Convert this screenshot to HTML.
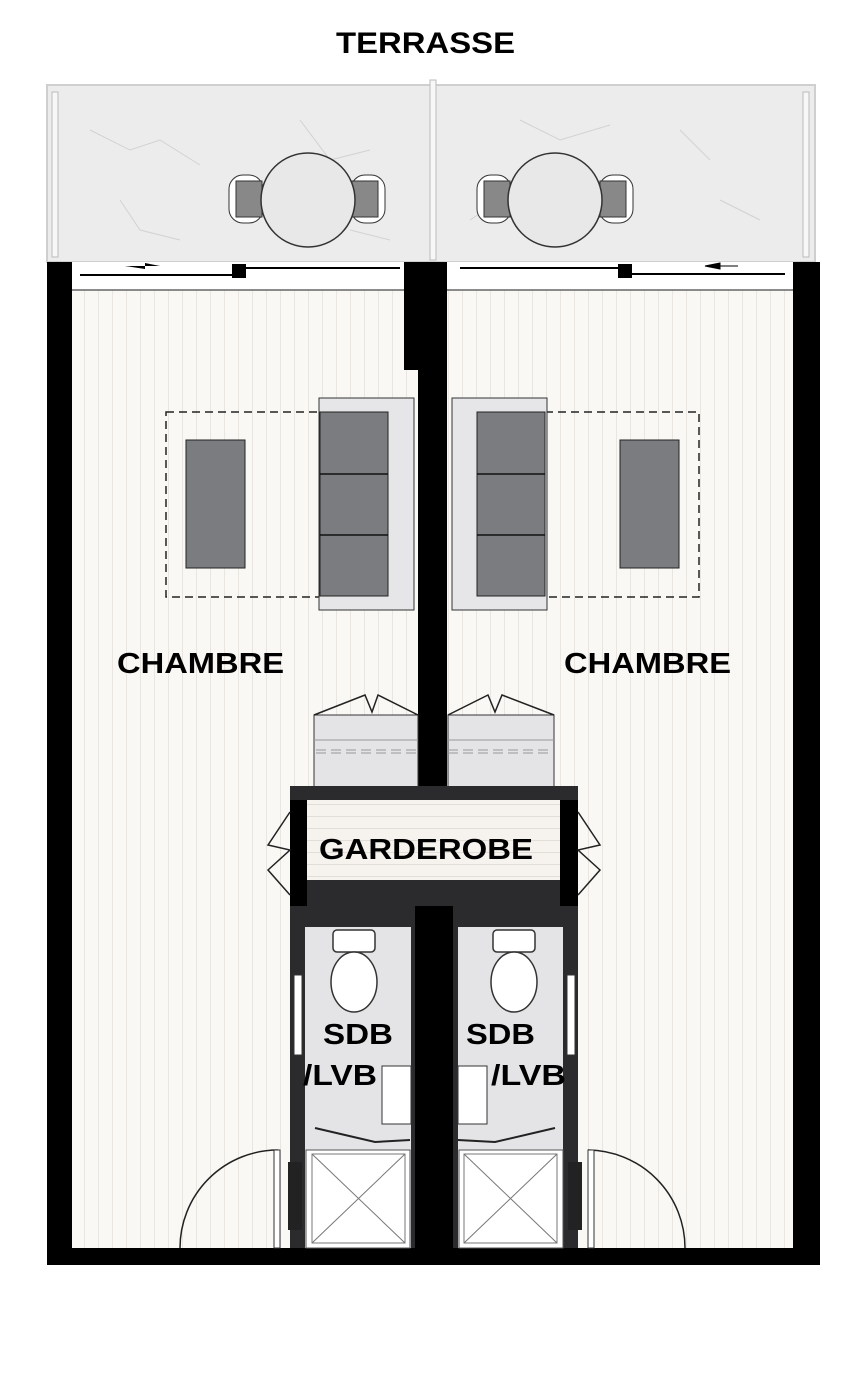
<!DOCTYPE html>
<html><head><meta charset="utf-8"><style>
html,body{margin:0;padding:0;background:#fff;}
svg{display:block;}
text{font-family:"Liberation Sans",Arial,sans-serif;font-weight:bold;fill:#000;}
</style></head><body>
<svg width="868" height="1381" viewBox="0 0 868 1381" xmlns="http://www.w3.org/2000/svg">
<defs>
<pattern id="wood" width="14" height="20" patternUnits="userSpaceOnUse">
<rect width="14" height="20" fill="#faf8f5"/>
<line x1="0.5" y1="0" x2="0.5" y2="20" stroke="#e9e5e0" stroke-width="1"/>
</pattern>
<pattern id="woodh" width="20" height="12" patternUnits="userSpaceOnUse">
<rect width="20" height="12" fill="#f6f3ef"/>
<line x1="0" y1="0.5" x2="20" y2="0.5" stroke="#e2ddd7" stroke-width="1"/>
</pattern>
</defs>
<text x="336" y="53" font-size="30" textLength="179" lengthAdjust="spacingAndGlyphs">TERRASSE</text>
<!-- terrace -->
<rect x="47" y="85" width="768" height="177" fill="#ececec"/>
<rect x="47" y="85" width="768" height="177" fill="none" stroke="#cfcfcf" stroke-width="2"/>
<rect x="52" y="92" width="6" height="165" fill="#f7f7f7" stroke="#bbb"/>
<rect x="430" y="80" width="6" height="180" fill="#f7f7f7" stroke="#bbb"/>
<rect x="803" y="92" width="6" height="165" fill="#f7f7f7" stroke="#bbb"/>
<path d="M90 130 l40 20 l30 -10 l40 25 M300 120 l30 40 l40 -10 M120 200 l20 30 l40 10 M520 120 l40 20 l50 -15 M680 130 l30 30 M720 200 l40 20 M470 220 l30 -20 M350 230 l40 10" stroke="#d2d2d2" fill="none"/>
<!-- tables -->
<g>
<rect x="229" y="175" width="34" height="48" rx="14" fill="#fff" stroke="#333"/>
<rect x="236" y="181" width="26" height="36" fill="#888" stroke="#333"/>
<rect x="351" y="175" width="34" height="48" rx="14" fill="#fff" stroke="#333"/>
<rect x="352" y="181" width="26" height="36" fill="#888" stroke="#333"/>
<circle cx="308" cy="200" r="47" fill="#e8e8e8" stroke="#333" stroke-width="1.5"/>
<rect x="477" y="175" width="34" height="48" rx="14" fill="#fff" stroke="#333"/>
<rect x="484" y="181" width="26" height="36" fill="#888" stroke="#333"/>
<rect x="599" y="175" width="34" height="48" rx="14" fill="#fff" stroke="#333"/>
<rect x="600" y="181" width="26" height="36" fill="#888" stroke="#333"/>
<circle cx="555" cy="200" r="47" fill="#e8e8e8" stroke="#333" stroke-width="1.5"/>
</g>
<!-- floors -->
<rect x="72" y="262" width="723" height="990" fill="url(#wood)"/>
<!-- window strip -->
<rect x="72" y="262" width="723" height="28" fill="#fff"/>
<line x1="72" y1="290" x2="795" y2="290" stroke="#666" stroke-width="1.5"/>
<line x1="80" y1="275" x2="235" y2="275" stroke="#000" stroke-width="2"/>
<line x1="245" y1="268" x2="400" y2="268" stroke="#000" stroke-width="2"/>
<line x1="460" y1="268" x2="620" y2="268" stroke="#000" stroke-width="2"/>
<line x1="630" y1="274" x2="785" y2="274" stroke="#000" stroke-width="2"/>
<rect x="232" y="264" width="14" height="14" fill="#000"/>
<rect x="618" y="264" width="14" height="14" fill="#000"/>
<path d="M125 266 h20 l15 0 l-15 -3 v6z" fill="#000"/>
<path d="M705 266 l15 -3 v6z M720 266 h18" fill="#000" stroke="#000"/>
<!-- walls -->
<rect x="47" y="262" width="25" height="1003" fill="#000"/>
<rect x="793" y="262" width="27" height="1003" fill="#000"/>
<rect x="47" y="1248" width="773" height="17" fill="#000"/>
<rect x="404" y="262" width="42" height="108" fill="#000"/>
<rect x="418" y="262" width="29" height="535" fill="#000"/>
<!-- rugs -->
<rect x="166" y="412" width="155" height="185" fill="none" stroke="#222" stroke-width="1.5" stroke-dasharray="8,5"/>
<rect x="545" y="412" width="154" height="185" fill="none" stroke="#222" stroke-width="1.5" stroke-dasharray="8,5"/>
<!-- coffee tables -->
<rect x="186" y="440" width="59" height="128" fill="#7b7c80" stroke="#222"/>
<rect x="620" y="440" width="59" height="128" fill="#7b7c80" stroke="#222"/>
<!-- sofas -->
<rect x="319" y="398" width="95" height="212" fill="#e6e6e8" stroke="#333"/>
<rect x="320" y="412" width="68" height="184" fill="#7b7c80" stroke="#222"/>
<line x1="320" y1="474" x2="388" y2="474" stroke="#111" stroke-width="1.5"/>
<line x1="320" y1="535" x2="388" y2="535" stroke="#111" stroke-width="1.5"/>
<rect x="452" y="398" width="95" height="212" fill="#e6e6e8" stroke="#333"/>
<rect x="477" y="412" width="68" height="184" fill="#7b7c80" stroke="#222"/>
<line x1="477" y1="474" x2="545" y2="474" stroke="#111" stroke-width="1.5"/>
<line x1="477" y1="535" x2="545" y2="535" stroke="#111" stroke-width="1.5"/>
<text x="117" y="673" font-size="29" textLength="167" lengthAdjust="spacingAndGlyphs">CHAMBRE</text>
<text x="564" y="673" font-size="29" textLength="167" lengthAdjust="spacingAndGlyphs">CHAMBRE</text>
<!-- beds -->
<rect x="314" y="715" width="104" height="73" fill="#e4e4e6" stroke="#333"/>
<line x1="314" y1="740" x2="418" y2="740" stroke="#999"/>
<line x1="316" y1="750" x2="418" y2="750" stroke="#999" stroke-dasharray="10,5"/>
<line x1="316" y1="753" x2="418" y2="753" stroke="#999" stroke-dasharray="10,5"/>
<path d="M314 715 L365 695 L372 712 L378 695 L418 715" fill="none" stroke="#222" stroke-width="1.5"/>
<rect x="448" y="715" width="106" height="73" fill="#e4e4e6" stroke="#333"/>
<line x1="448" y1="740" x2="554" y2="740" stroke="#999"/>
<line x1="448" y1="750" x2="552" y2="750" stroke="#999" stroke-dasharray="10,5"/>
<line x1="448" y1="753" x2="552" y2="753" stroke="#999" stroke-dasharray="10,5"/>
<path d="M448 715 L488 695 L495 712 L502 695 L554 715" fill="none" stroke="#222" stroke-width="1.5"/>
<!-- garderobe -->
<rect x="290" y="786" width="288" height="122" fill="#2b2b2d"/>
<rect x="306" y="800" width="254" height="80" fill="url(#woodh)"/>
<rect x="290" y="800" width="17" height="106" fill="#000"/>
<rect x="560" y="800" width="18" height="106" fill="#000"/>
<path d="M290 812 L268 845 L290 850 L268 870 L290 895" fill="none" stroke="#222" stroke-width="1.5"/>
<path d="M578 812 L600 845 L578 850 L600 870 L578 895" fill="none" stroke="#222" stroke-width="1.5"/>
<text x="319" y="859" font-size="29" textLength="214" lengthAdjust="spacingAndGlyphs">GARDEROBE</text>
<!-- bathrooms -->
<rect x="290" y="906" width="288" height="342" fill="#2b2b2d"/>
<rect x="305" y="927" width="106" height="321" fill="#e4e4e6"/>
<rect x="458" y="927" width="105" height="321" fill="#e4e4e6"/>
<rect x="415" y="906" width="38" height="342" fill="#000"/>
<!-- toilets -->
<g fill="#fff" stroke="#333" stroke-width="1.5">
<rect x="333" y="930" width="42" height="22" rx="4"/>
<ellipse cx="354" cy="982" rx="23" ry="30"/>
<rect x="493" y="930" width="42" height="22" rx="4"/>
<ellipse cx="514" cy="982" rx="23" ry="30"/>
</g>
<!-- sinks -->
<rect x="382" y="1066" width="29" height="58" fill="#fff" stroke="#333"/>
<rect x="458" y="1066" width="29" height="58" fill="#fff" stroke="#333"/>
<!-- door panels -->
<rect x="294" y="975" width="8" height="80" fill="#fff" stroke="#333"/>
<rect x="567" y="975" width="8" height="80" fill="#fff" stroke="#333"/>
<!-- showers -->
<rect x="306" y="1150" width="104" height="98" fill="#fff" stroke="#555"/>
<path d="M312 1154 L405 1243 M405 1154 L312 1243" stroke="#777"/>
<rect x="312" y="1154" width="93" height="89" fill="none" stroke="#777"/>
<path d="M315 1128 L375 1142 L410 1140" fill="none" stroke="#222" stroke-width="2"/>
<rect x="459" y="1150" width="104" height="98" fill="#fff" stroke="#555"/>
<path d="M464 1154 L557 1243 M557 1154 L464 1243" stroke="#777"/>
<rect x="464" y="1154" width="93" height="89" fill="none" stroke="#777"/>
<path d="M555 1128 L495 1142 L458 1140" fill="none" stroke="#222" stroke-width="2"/>
<rect x="288" y="1162" width="14" height="68" fill="#222"/>
<rect x="568" y="1162" width="14" height="68" fill="#222"/>
<text x="323" y="1044" font-size="29" textLength="70" lengthAdjust="spacingAndGlyphs">SDB</text>
<text x="303" y="1085" font-size="29" textLength="74" lengthAdjust="spacingAndGlyphs">/LVB</text>
<text x="466" y="1044" font-size="29" textLength="69" lengthAdjust="spacingAndGlyphs">SDB</text>
<text x="491" y="1085" font-size="29" textLength="75" lengthAdjust="spacingAndGlyphs">/LVB</text>
<!-- doors -->
<path d="M180 1248 A98 98 0 0 1 278 1150" fill="none" stroke="#222" stroke-width="1.5"/>
<rect x="274" y="1150" width="6" height="98" fill="#fff" stroke="#333"/>
<path d="M685 1248 A98 98 0 0 0 588 1150" fill="none" stroke="#222" stroke-width="1.5"/>
<rect x="588" y="1150" width="6" height="98" fill="#fff" stroke="#333"/>
</svg>
</body></html>
